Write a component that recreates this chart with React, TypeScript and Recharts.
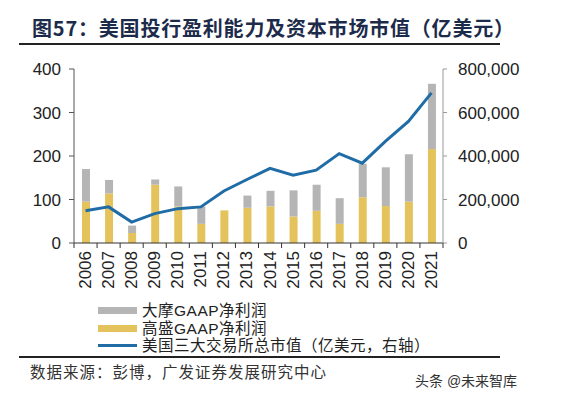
import { ComposedChart, Bar, Line, XAxis, YAxis } from "recharts"

const years = ["2006", "2007", "2008", "2009", "2010", "2011", "2012", "2013", "2014", "2015", "2016", "2017", "2018", "2019", "2020", "2021"]
// 高盛 GAAP net income (亿美元)
const gsProfit = [95, 114, 23, 134, 84, 44, 75, 81, 84, 61, 74, 44, 105, 85, 95, 216]
// 大摩 GAAP net income (亿美元), stacked on top
const msProfit = [75, 31, 17, 12, 46, 40, 0, 28, 36, 60, 60, 59, 77, 89, 109, 150]
// 美国三大交易所总市值 (亿美元, right axis)
const marketCap = [148000, 166000, 96000, 135000, 158000, 166000, 239000, 292000, 343000, 312000, 335000, 411000, 367000, 467000, 559000, 690000]

const leftTicks = [0, 100, 200, 300, 400]
const rightTicks = [0, 200000, 400000, 600000, 800000]

const data = years.map((year, i) => ({
  year,
  gs: gsProfit[i],
  ms: msProfit[i],
  cap: marketCap[i],
}))

const CHART_W = 563
const LEFT_W = 74
const RIGHT_W = 120
const step = (CHART_W - LEFT_W - RIGHT_W) / years.length

// latin font first keeps line boxes compact, CJK glyphs fall back to Noto
const mixed = '"Liberation Sans", "Noto Sans CJK SC", sans-serif'
const cjk = '"Noto Sans CJK SC", "Noto Sans", sans-serif'
const num = '"Liberation Sans", Arial, sans-serif'

const YearTick = ({ x, y, payload, index }: any) => (
  <g>
    <line x1={x - step / 2} y1={y} x2={x - step / 2} y2={y + 5} stroke="#333" strokeWidth={1} />
    {index === years.length - 1 && (
      <line x1={x + step / 2} y1={y} x2={x + step / 2} y2={y + 5} stroke="#333" strokeWidth={1} />
    )}
    <text
      x={x}
      y={y + 8}
      transform={`rotate(-90, ${x}, ${y + 8})`}
      textAnchor="end"
      dominantBaseline="central"
      fontSize={17}
      fontFamily={num}
      fill="#222"
    >
      {payload.value}
    </text>
  </g>
)

const legendRow = { display: "flex", alignItems: "center", height: 17.5, lineHeight: "17.5px", whiteSpace: "nowrap" } as const

export default function App() {
  return (
    <div style={{ position: "absolute", left: 0, top: 0, width: 563, height: 397, background: "#fff", overflow: "hidden" }}>
      <div
        style={{
          position: "absolute",
          left: 32,
          top: 14,
          fontFamily: cjk,
          fontWeight: 700,
          fontSize: 20,
          letterSpacing: 0.8,
          color: "#1d2b4b",
          whiteSpace: "nowrap",
          lineHeight: "28px",
        }}
      >
        图57：美国投行盈利能力及资本市场市值（亿美元）
      </div>
      <div style={{ position: "absolute", left: 19, top: 43, width: 481, height: 1.5, background: "#222" }} />

      <div style={{ position: "absolute", left: 0, top: 0 }}>
        <ComposedChart width={CHART_W} height={300} data={data} margin={{ top: 69, right: 0, left: 0, bottom: 0 }}>
          <XAxis
            dataKey="year"
            height={57}
            interval={0}
            tick={<YearTick />}
            tickLine={false}
            tickSize={0}
            tickMargin={0}
            axisLine={{ stroke: "#333", strokeWidth: 1 }}
          />
          <YAxis
            yAxisId="left"
            width={LEFT_W}
            domain={[0, 400]}
            ticks={leftTicks}
            tickSize={5}
            tickMargin={8}
            tick={{ fontSize: 17, fill: "#222", fontFamily: num }}
            axisLine={{ stroke: "#555" }}
            tickLine={{ stroke: "#555" }}
          />
          <YAxis
            yAxisId="right"
            orientation="right"
            width={RIGHT_W}
            domain={[0, 800000]}
            ticks={rightTicks}
            tickSize={4}
            tickMargin={11}
            tickFormatter={(v: number) => v.toLocaleString("en-US")}
            tick={{ fontSize: 17, fill: "#222", fontFamily: num }}
            axisLine={{ stroke: "#999" }}
            tickLine={{ stroke: "#999" }}
          />
          <Bar yAxisId="left" dataKey="gs" stackId="p" fill="#e5c35c" barSize={8} isAnimationActive={false} />
          <Bar yAxisId="left" dataKey="ms" stackId="p" fill="#b5b5b5" barSize={8} isAnimationActive={false} />
          <Line
            yAxisId="right"
            dataKey="cap"
            type="linear"
            stroke="#1f6ca6"
            strokeWidth={3}
            dot={false}
            isAnimationActive={false}
          />
        </ComposedChart>
      </div>

      {/* legend */}
      <div style={{ position: "absolute", left: 98, top: 302, fontFamily: mixed, fontSize: 15.5, letterSpacing: 0.5, color: "#222" }}>
        <div style={legendRow}>
          <span style={{ width: 39, height: 7, background: "#b5b5b5", marginRight: 5 }} />
          <span>大摩GAAP净利润</span>
        </div>
        <div style={legendRow}>
          <span style={{ width: 39, height: 7, background: "#e5c35c", marginRight: 5 }} />
          <span>高盛GAAP净利润</span>
        </div>
        <div style={legendRow}>
          <span style={{ width: 39, height: 3, background: "#1f6ca6", marginRight: 5 }} />
          <span>美国三大交易所总市值（亿美元，右轴）</span>
        </div>
      </div>

      <div style={{ position: "absolute", left: 19, top: 356, width: 481, height: 1.5, background: "#222" }} />
      <div
        style={{
          position: "absolute",
          left: 30,
          top: 363,
          fontFamily: mixed,
          fontSize: 15.5,
          letterSpacing: 1,
          color: "#333",
          whiteSpace: "nowrap",
          lineHeight: "20px",
        }}
      >
        数据来源：彭博，广发证券发展研究中心
      </div>
      <div
        style={{
          position: "absolute",
          left: 415,
          top: 372,
          fontFamily: mixed,
          fontSize: 14,
          color: "#333",
          whiteSpace: "nowrap",
          lineHeight: "18px",
        }}
      >
        头条 @未来智库
      </div>
    </div>
  )
}
